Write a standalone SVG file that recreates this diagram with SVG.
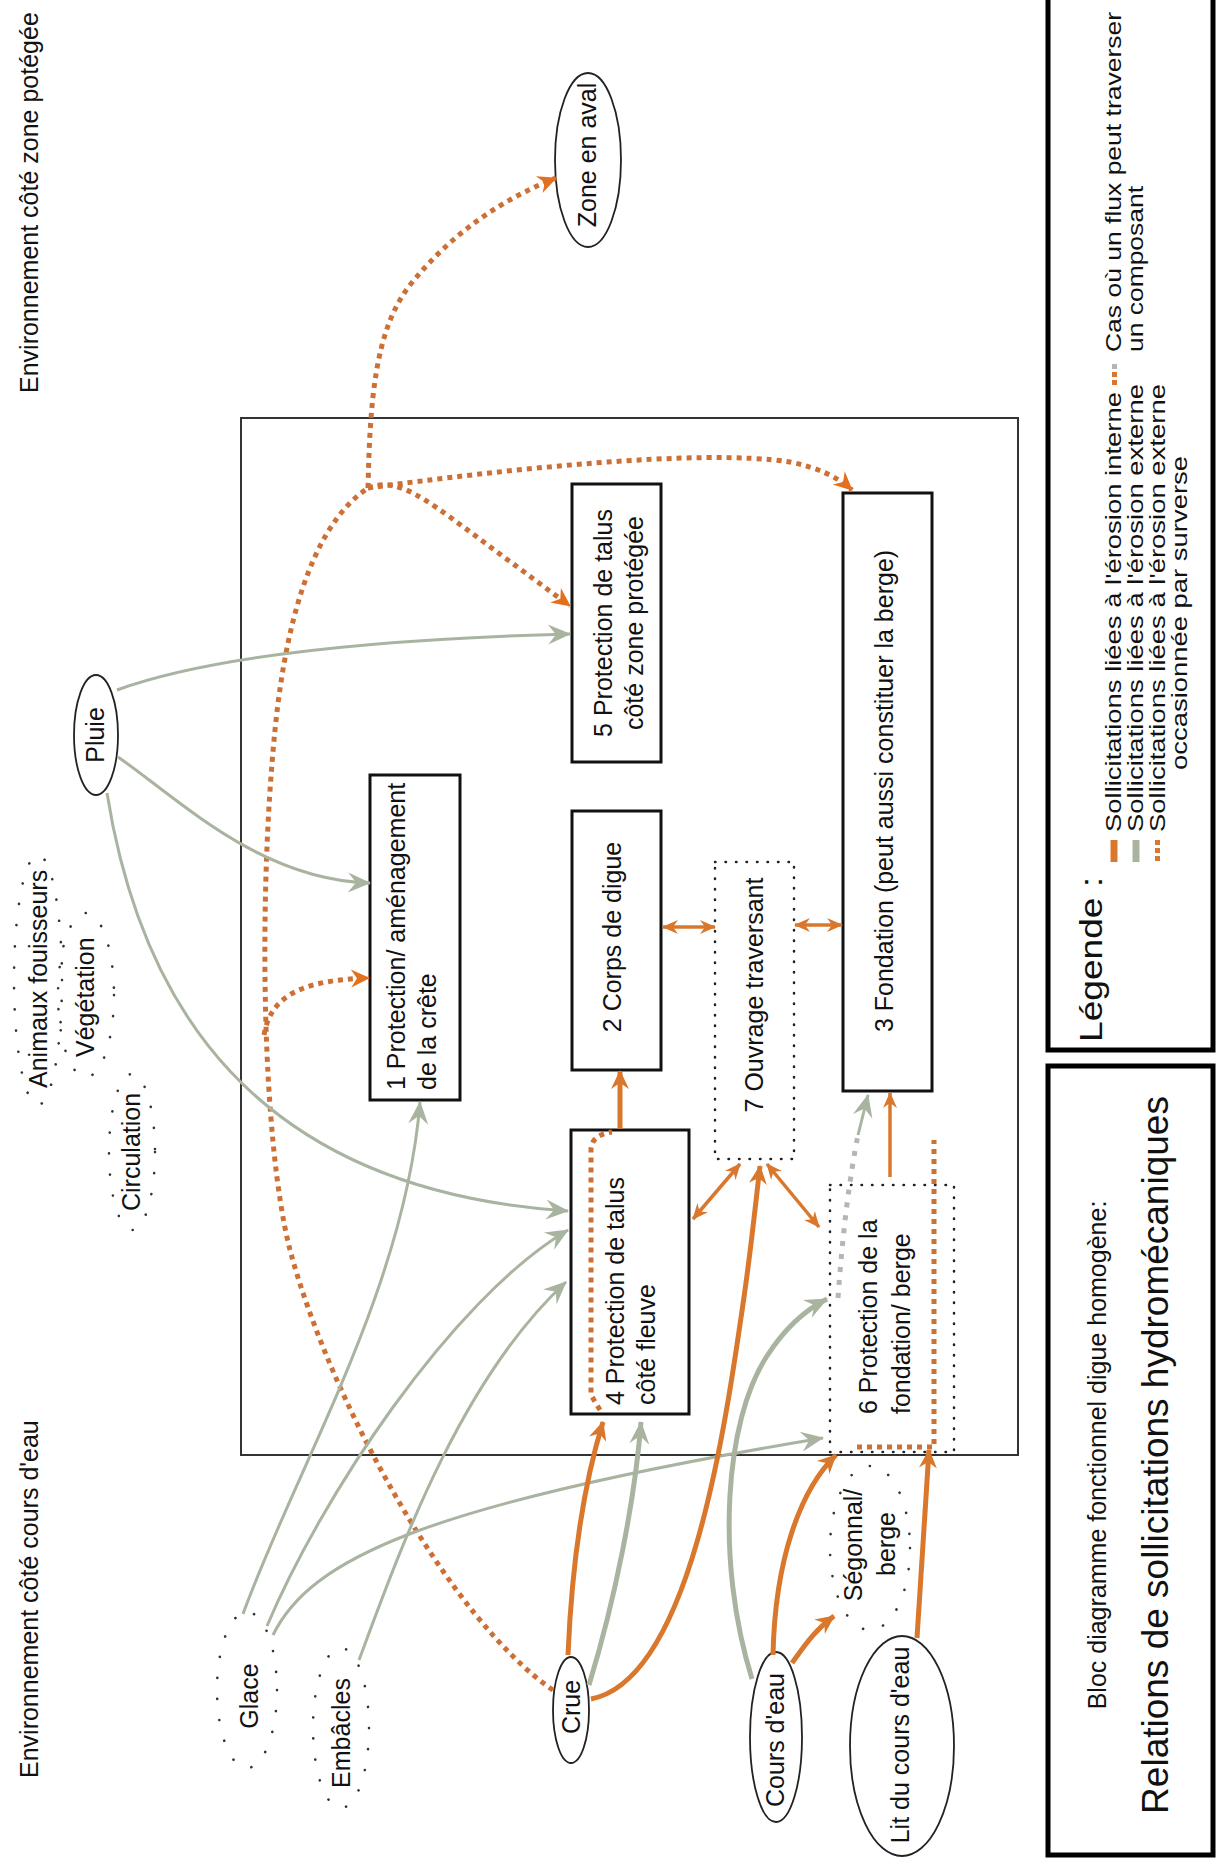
<svg xmlns="http://www.w3.org/2000/svg" width="1217" height="1859" viewBox="0 0 1217 1859">
<style>
text{font-family:"Liberation Sans",Arial,sans-serif;fill:#111}
.n{font-size:25px}
.m{text-anchor:middle}
.lg{font-size:22px}
.box{fill:#fff;stroke:#111;stroke-width:3}
.dbox{fill:none;stroke:#222;stroke-width:2.5;stroke-linecap:round;stroke-dasharray:0.5 10}
.ell{fill:#fff;stroke:#222;stroke-width:1.8}
.cloud{fill:none;stroke:#333;stroke-width:2.6;stroke-linecap:round;stroke-dasharray:0.1 21}
.o{fill:none;stroke:#D9782D;stroke-width:5}
.o3{fill:none;stroke:#D9782D;stroke-width:3.5}
.g{fill:none;stroke:#A9B4A0;stroke-width:3}
.gt{fill:none;stroke:#A9B4A0;stroke-width:5}
.od{fill:none;stroke:#CC7035;stroke-width:5;stroke-dasharray:5 5}
.gd{fill:none;stroke:#B5B5B5;stroke-width:5;stroke-dasharray:5 8}
</style>
<defs>
<marker id="ao" markerUnits="userSpaceOnUse" viewBox="-20 -10 22 20" refX="0" refY="0" markerWidth="22" markerHeight="20" orient="auto-start-reverse"><path d="M1,0 L-18,-9 L-12,0 L-18,9 Z" fill="#D9782D"/></marker>
<marker id="as" markerUnits="userSpaceOnUse" viewBox="-16 -8 18 16" refX="0" refY="0" markerWidth="18" markerHeight="16" orient="auto-start-reverse"><path d="M1,0 L-15,-7 L-10,0 L-15,7 Z" fill="#D9782D"/></marker>
<marker id="ag" markerUnits="userSpaceOnUse" viewBox="-24 -11 26 22" refX="0" refY="0" markerWidth="26" markerHeight="22" orient="auto"><path d="M1,0 L-22,-10 L-14,0 L-22,10 Z" fill="#A9B4A0"/></marker>
<marker id="ad" markerUnits="userSpaceOnUse" viewBox="-20 -10 22 20" refX="0" refY="0" markerWidth="22" markerHeight="20" orient="auto"><path d="M1,0 L-18,-9 L-12,0 L-18,9 Z" fill="#E2701F"/></marker>
</defs>

<g id="frames">
<rect x="241" y="418" width="777" height="1037" fill="none" stroke="#333" stroke-width="2"/>
<rect id="legend" x="1048" y="-10" width="165" height="1060" fill="none" stroke="#000" stroke-width="5"/>
<rect id="titlebox" x="1048" y="1066" width="165" height="789" fill="none" stroke="#000" stroke-width="5"/>
</g>

<g id="labels">
<text class="n" transform="translate(38,393) rotate(-90)">Environnement côté zone potégée</text>
<text class="n" transform="translate(38,1778) rotate(-90)">Environnement côté cours d'eau</text>
</g>

<g id="legend-content">
<text transform="translate(1102,1042) rotate(-90)" style="font-size:32px" textLength="165" lengthAdjust="spacingAndGlyphs">Légende :</text>
<line x1="1114" y1="862" x2="1114" y2="840" stroke="#D9782D" stroke-width="7"/>
<line x1="1136" y1="862" x2="1136" y2="840" stroke="#A9B4A0" stroke-width="7"/>
<rect x="1155" y="856" width="5" height="5" fill="#D9782D"/>
<rect x="1155" y="848" width="5" height="5" fill="#D9782D"/>
<rect x="1155" y="840" width="5" height="5" fill="#D9782D"/>
<rect x="1112" y="380" width="5" height="5" fill="#D9782D"/>
<rect x="1112" y="372" width="5" height="5" fill="#D9782D"/>
<rect x="1112" y="364" width="5" height="5" fill="#B5B5B5"/>
<text class="lg" transform="translate(1121,832) rotate(-90)" textLength="440" lengthAdjust="spacingAndGlyphs">Sollicitations liées à l'érosion interne</text>
<text class="lg" transform="translate(1121,352) rotate(-90)" textLength="340" lengthAdjust="spacingAndGlyphs">Cas où un flux peut traverser</text>
<text class="lg" transform="translate(1143,832) rotate(-90)" textLength="448" lengthAdjust="spacingAndGlyphs">Sollicitations liées à l'érosion externe</text>
<text class="lg" transform="translate(1143,352) rotate(-90)" textLength="166" lengthAdjust="spacingAndGlyphs">un composant</text>
<text class="lg" transform="translate(1165,832) rotate(-90)" textLength="448" lengthAdjust="spacingAndGlyphs">Sollicitations liées à l'érosion externe</text>
<text class="lg" transform="translate(1187,770) rotate(-90)" textLength="314" lengthAdjust="spacingAndGlyphs">occasionnée par surverse</text>
</g>

<g id="title">
<text class="m" transform="translate(1106,1455) rotate(-90)" style="font-size:25px">Bloc diagramme fonctionnel digue homogène:</text>
<text class="m" transform="translate(1168,1455) rotate(-90)" style="font-size:37px">Relations de sollicitations hydromécaniques</text>
</g>

<g id="n1"><rect class="box" x="370" y="775" width="90" height="325"/>
<text class="n" transform="translate(405,1090) rotate(-90)">1 Protection/ aménagement</text>
<text class="n" transform="translate(436,1090) rotate(-90)">de la crête</text></g>
<g id="n2"><rect class="box" x="572" y="811" width="89" height="259"/>
<text class="n m" transform="translate(621,937) rotate(-90)">2 Corps de digue</text></g>
<g id="n3"><rect class="box" x="843" y="493" width="89" height="598"/>
<text class="n m" transform="translate(893,791) rotate(-90)">3 Fondation (peut aussi constituer la berge)</text></g>
<g id="n4"><rect class="box" x="571" y="1130" width="118" height="284"/>
<text class="n" transform="translate(624,1405) rotate(-90)">4 Protection de talus</text>
<text class="n" transform="translate(655,1405) rotate(-90)">côté fleuve</text></g>
<g id="n5"><rect class="box" x="572" y="484" width="89" height="278"/>
<text class="n m" transform="translate(612,623) rotate(-90)">5 Protection de talus</text>
<text class="n m" transform="translate(643,623) rotate(-90)">côté zone protégée</text></g>
<g id="n6"><rect class="dbox" x="830" y="1185" width="124" height="267"/>
<text class="n" transform="translate(877,1414) rotate(-90)">6 Protection de la</text>
<text class="n" transform="translate(910,1414) rotate(-90)">fondation/ berge</text></g>
<g id="n7"><rect class="dbox" x="715" y="862" width="79" height="297"/>
<text class="n m" transform="translate(763,995) rotate(-90)">7 Ouvrage traversant</text></g>

<g id="zone-aval"><ellipse class="ell" cx="588" cy="160" rx="33" ry="87"/>
<text class="n m" transform="translate(596,155) rotate(-90)">Zone en aval</text></g>
<g id="pluie"><ellipse class="ell" cx="96" cy="735" rx="22" ry="60"/>
<text class="n m" transform="translate(104,735) rotate(-90)">Pluie</text></g>
<g id="crue"><ellipse class="ell" cx="571" cy="1710" rx="18" ry="53"/>
<text class="n m" transform="translate(580,1707) rotate(-90)">Crue</text></g>
<g id="cours"><ellipse class="ell" cx="776" cy="1737" rx="26" ry="85"/>
<text class="n m" transform="translate(784,1740) rotate(-90)">Cours d'eau</text></g>
<g id="lit"><ellipse class="ell" cx="902" cy="1746" rx="52" ry="110"/>
<text class="n m" transform="translate(909,1745) rotate(-90)">Lit du cours d'eau</text></g>

<g id="animaux"><ellipse class="cloud" cx="38" cy="980" rx="24" ry="125"/>
<text class="n" transform="translate(47,1088) rotate(-90)">Animaux fouisseurs</text></g>
<g id="vegetation"><ellipse class="cloud" cx="86" cy="995" rx="28" ry="82"/>
<text class="n" transform="translate(94,1057) rotate(-90)">Végétation</text></g>
<g id="circulation"><ellipse class="cloud" cx="132" cy="1152" rx="23" ry="78"/>
<text class="n" transform="translate(140,1211) rotate(-90)">Circulation</text></g>
<g id="glace"><ellipse class="cloud" cx="247" cy="1690" rx="30" ry="78"/>
<text class="n m" transform="translate(258,1696) rotate(-90)">Glace</text></g>
<g id="embacles"><ellipse class="cloud" cx="341" cy="1728" rx="28" ry="80"/>
<text class="n m" transform="translate(350,1733) rotate(-90)">Embâcles</text></g>
<g id="segonnal"><ellipse class="cloud" cx="870" cy="1548" rx="40" ry="82"/>
<text class="n m" transform="translate(862,1545) rotate(-90)">Ségonnal/</text>
<text class="n m" transform="translate(895,1544) rotate(-90)">berge</text></g>

<g id="connectors">
<path class="od" d="M553,1690 C450,1620 330,1400 290,1250 C262,1140 258,900 275,730 C288,600 320,520 368,488"/>
<path class="od" d="M368,488 C370,400 375,330 410,285 C450,235 500,200 556,178" marker-end="url(#ad)"/>
<path class="od" d="M368,488 C392,478 415,492 450,517 L570,606" marker-end="url(#ad)"/>
<path class="od" d="M368,488 C500,470 700,448 790,462 Q830,470 852,490" marker-end="url(#ad)"/>
<path class="od" d="M264,1035 C270,1000 295,980 369,978" marker-end="url(#ad)"/>
<path class="od" d="M600,1410 L591,1395 L591,1150 Q591,1135 612,1132"/>
<path class="od" d="M857,1447 L934,1447 L934,1140"/>
<path class="gd" d="M838,1298 Q845,1200 858,1135"/>
<path class="g" d="M117,690 C200,660 350,640 570,634" marker-end="url(#ag)"/>
<path class="g" d="M118,757 C180,800 260,880 370,883" marker-end="url(#ag)"/>
<path class="g" d="M107,793 C140,1000 250,1190 568,1211" marker-end="url(#ag)"/>
<path class="g" d="M243,1614 C295,1470 405,1290 420,1102" marker-end="url(#ag)"/>
<path class="g" d="M267,1626 C320,1500 450,1300 568,1230" marker-end="url(#ag)"/>
<path class="g" d="M273,1635 C310,1560 420,1505 823,1438" marker-end="url(#ag)"/>
<path class="g" d="M359,1660 C400,1550 460,1380 566,1282" marker-end="url(#ag)"/>
<path class="gt" d="M589,1685 C615,1600 635,1500 641,1422" marker-end="url(#ag)"/>
<path class="gt" d="M752,1679 C715,1560 725,1420 767,1356 C785,1328 805,1310 827,1299" marker-end="url(#ag)"/>
<path class="g" d="M858,1135 L868,1095" marker-end="url(#ag)"/>
<path class="o" d="M568,1655 C572,1560 585,1480 603,1422" marker-end="url(#ao)"/>
<path class="o" d="M591,1699 C690,1680 725,1430 745,1290 C752,1240 756,1200 760,1166" marker-end="url(#ao)"/>
<path class="o" d="M773,1655 C775,1560 800,1490 836,1455" marker-end="url(#ao)"/>
<path class="o" d="M792,1663 C805,1645 815,1630 834,1616" marker-end="url(#ao)"/>
<path class="o" d="M917,1638 C922,1560 926,1500 929,1450" marker-end="url(#ao)"/>
<path class="o" d="M620,1129 L620,1071" marker-end="url(#ao)"/>
<path class="o3" d="M890,1177 L890,1093" marker-end="url(#as)"/>
<path class="o3" d="M663,927 L715,927" marker-start="url(#as)" marker-end="url(#as)"/>
<path class="o3" d="M795,925 L842,925" marker-start="url(#as)" marker-end="url(#as)"/>
<path class="o3" d="M693,1219 L740,1164" marker-start="url(#as)" marker-end="url(#as)"/>
<path class="o3" d="M767,1164 L819,1227" marker-start="url(#as)" marker-end="url(#as)"/>
</g>
</svg>
